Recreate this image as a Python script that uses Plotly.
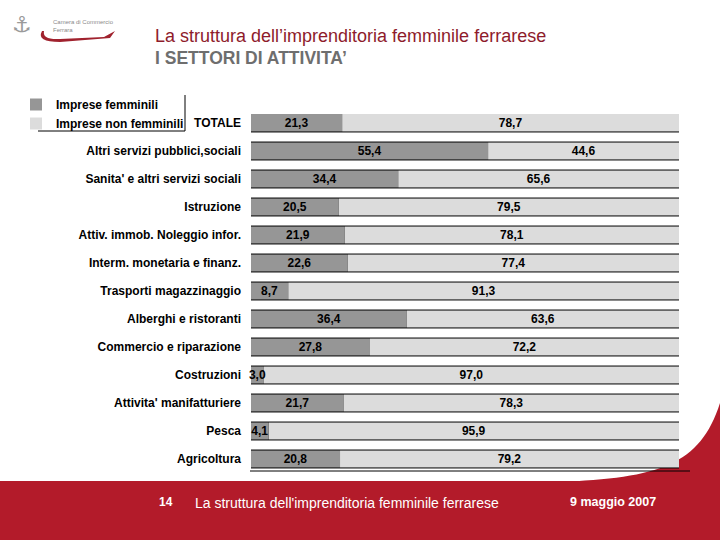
import plotly.graph_objects as go

categories = [
    "TOTALE",
    "Altri servizi pubblici,sociali",
    "Sanita' e altri servizi sociali",
    "Istruzione",
    "Attiv. immob. Noleggio infor.",
    "Interm. monetaria e finanz.",
    "Trasporti magazzinaggio",
    "Alberghi e ristoranti",
    "Commercio e riparazione",
    "Costruzioni",
    "Attivita' manifatturiere",
    "Pesca",
    "Agricoltura",
]
femminili = [21.3, 55.4, 34.4, 20.5, 21.9, 22.6, 8.7, 36.4, 27.8, 3.0, 21.7, 4.1, 20.8]
non_femminili = [78.7, 44.6, 65.6, 79.5, 78.1, 77.4, 91.3, 63.6, 72.2, 97.0, 78.3, 95.9, 79.2]
series_names = ["Imprese femminili", "Imprese non femminili"]

W, H = 720, 540
L, R, T, B = 251, 41, 109, 67
PW, PH = W - L - R, H - T - B


def px(x):
    return (x - L) / PW


def py(y):
    return (H - B - y) / PH


def fmt(v):
    return f"{v:.1f}".replace(".", ",")


FONT = "Arial, Liberation Sans, sans-serif"
RED = "#B31B2A"
TXT = dict(family=FONT, size=12, color="#000000", weight="bold")

fig = go.Figure()
# non-femminili drawn first (placed after femminili via base) so the
# femminili labels overflowing small bars stay visible
fig.add_trace(go.Bar(
    y=categories, x=non_femminili, base=femminili, orientation="h",
    name=series_names[1],
    marker=dict(color="#DCDCDC", line=dict(width=0)),
    text=[fmt(v) for v in non_femminili], textposition="inside", textangle=0,
    insidetextanchor="middle", textfont=TXT,
))
fig.add_trace(go.Bar(
    y=categories, x=femminili, orientation="h", name=series_names[0],
    marker=dict(color="#969696", line=dict(width=0)),
    text=[fmt(v) for v in femminili], textposition="inside", textangle=0,
    insidetextanchor="middle", textfont=TXT, cliponaxis=False,
))

shapes = []
half = 0.32
for i, (f, n) in enumerate(zip(femminili, non_femminili)):
    tot = f + n
    shapes.append(dict(type="line", xref="x", yref="y", x0=0, x1=tot,
                       y0=i + half, y1=i + half, line=dict(color="black", width=1)))
    if i > 0:
        shapes.append(dict(type="line", xref="x", yref="y", x0=0, x1=tot,
                           y0=i - half, y1=i - half, line=dict(color="black", width=1)))
    shapes.append(dict(type="line", xref="x", yref="y", x0=f, x1=f,
                       y0=i - half, y1=i + half, line=dict(color="black", width=1),
                       layer="below"))

# red footer band
shapes.append(dict(type="rect", xref="paper", yref="paper", x0=px(0), x1=px(W),
                   y0=py(H), y1=py(481), fillcolor=RED, line=dict(width=0), layer="below"))
# swoosh
path = (f"M {px(558)},{py(482)} C {px(660)},{py(478)} {px(700)},{py(465)} "
        f"{px(720)},{py(403)} L {px(720)},{py(482)} Z")
shapes.append(dict(type="path", xref="paper", yref="paper", path=path,
                   fillcolor=RED, line=dict(width=0), layer="below"))
# black line above footer
shapes.append(dict(type="line", xref="paper", yref="paper", x0=px(250), x1=px(690),
                   y0=py(471), y1=py(471), line=dict(color="black", width=1)))
# legend box lines
shapes.append(dict(type="line", xref="paper", yref="paper", x0=px(185), x1=px(185),
                   y0=py(95), y1=py(131), line=dict(color="black", width=1)))
shapes.append(dict(type="line", xref="paper", yref="paper", x0=px(38), x1=px(185),
                   y0=py(131), y1=py(131), line=dict(color="black", width=1)))
# logo curve
logo = (f"M {px(42)},{py(31)} Q {px(36)},{py(42)} {px(60)},{py(42)} "
        f"L {px(110)},{py(38)} L {px(115)},{py(31)} L {px(104)},{py(37)} "
        f"L {px(60)},{py(39)} Q {px(42)},{py(40)} {px(44)},{py(31)} Z")
shapes.append(dict(type="path", xref="paper", yref="paper", path=logo,
                   fillcolor="#A0222E", line=dict(width=0)))

annotations = [
    dict(text="La struttura dell’imprenditoria femminile ferrarese",
         x=px(153), y=py(36), xanchor="left", yanchor="middle",
         font=dict(family=FONT, size=18, color="#8E1B2B")),
    dict(text="<b>I SETTORI DI ATTIVITA’</b>",
         x=px(153), y=py(58), xanchor="left", yanchor="middle",
         font=dict(family=FONT, size=17.5, color="#6E6E6E")),
    dict(text="Camera di Commercio<br>Ferrara", align="left",
         x=px(51), y=py(26), xanchor="left", yanchor="middle",
         font=dict(family=FONT, size=6, color="#8A8A8A")),
    dict(text="⚓", x=px(22), y=py(25), xanchor="center", yanchor="middle",
         font=dict(family="DejaVu Sans", size=22, color="#9A9A9A")),
    dict(text="<b>14</b>", x=px(166), y=py(502), xanchor="center", yanchor="middle",
         font=dict(family=FONT, size=12, color="white")),
    dict(text="La struttura dell'imprenditoria femminile ferrarese",
         x=px(193), y=py(503), xanchor="left", yanchor="middle",
         font=dict(family=FONT, size=14, color="white")),
    dict(text="<b>9 maggio 2007</b>", x=px(613), y=py(502), xanchor="center",
         yanchor="middle", font=dict(family=FONT, size=12.5, color="white")),
]
for a in annotations:
    a.update(xref="paper", yref="paper", showarrow=False)

fig.update_layout(
    width=W, height=H,
    margin=dict(l=L, r=R, t=T, b=B, pad=0),
    barmode="overlay", bargap=0.36,
    paper_bgcolor="white", plot_bgcolor="white",
    uniformtext=dict(mode="show", minsize=12),
    showlegend=True,
    legend=dict(x=px(16), y=py(90), xanchor="left", yanchor="top",
                traceorder="reversed", bgcolor="rgba(0,0,0,0)",
                font=dict(family=FONT, size=12, color="black", weight="bold"),
                itemwidth=30, tracegroupgap=0),
    xaxis=dict(range=[0, 100], visible=False, fixedrange=True),
    yaxis=dict(autorange="reversed", showgrid=False, showline=False, zeroline=False,
               ticks="", ticklabelstandoff=9, fixedrange=True,
               tickfont=dict(family=FONT, size=12, color="black", weight="bold")),
    shapes=shapes,
    annotations=annotations,
)

fig.write_html("out.html", config={"displayModeBar": False},
               post_script="document.body.style.margin='0';")
